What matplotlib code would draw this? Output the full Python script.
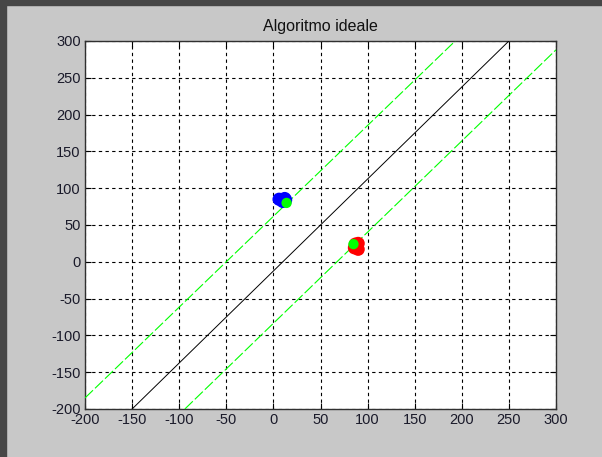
import numpy as np
import matplotlib
matplotlib.use("Agg")
import matplotlib.pyplot as plt
from matplotlib.patches import Rectangle

plt.rcParams['font.family'] = ['Liberation Sans', 'DejaVu Sans']
plt.rcParams['axes.unicode_minus'] = False

# reference line and two tolerance bands
ideal_x = [-150, 250]
ideal_y = [-200, 300]
upper_x = [-200, 193]
upper_y = [-185, 300]
lower_x = [-94, 300]
lower_y = [-200, 288]

# point clusters
blue_x = [6, 12, 10, 13]
blue_y = [85, 86, 82, 84]
red_x = [87, 90, 88, 90, 86]
red_y = [24, 17, 21, 25, 19]
green_x = [14, 85]
green_y = [80, 24]

xticks = np.arange(-200, 301, 50)
yticks = np.arange(-200, 301, 50)

fig = plt.figure(figsize=(6.02, 4.57), dpi=100, facecolor='#c8c8c8')
# dark window border on top and left
fig.patches.append(Rectangle((0, 1 - 5 / 457), 1, 5 / 457, transform=fig.transFigure,
                             color='#474747', zorder=0))
fig.patches.append(Rectangle((0, 0), 6 / 602, 1, transform=fig.transFigure,
                             color='#474747', zorder=0))

ax = fig.add_axes([85 / 602, 1 - 409 / 457, 471 / 602, 368 / 457])
ax.set_facecolor('white')

ax.plot(ideal_x, ideal_y, color='black', lw=0.7, zorder=3)
ax.plot(upper_x, upper_y, color='#00ff00', lw=0.8, dashes=(10, 2.5), zorder=3)
ax.plot(lower_x, lower_y, color='#00ff00', lw=0.8, dashes=(10, 2.5), zorder=3)

ax.scatter(blue_x, blue_y, s=90, color='#0000ff', edgecolors='none', zorder=4)
ax.scatter(red_x, red_y, s=90, color='#ff0000', edgecolors='none', zorder=4)
ax.scatter(green_x, green_y, s=55, color='#00ff00', edgecolors='none', zorder=5)

ax.set_xlim(-200, 300)
ax.set_ylim(-200, 300)
ax.set_xticks(xticks)
ax.set_yticks(yticks)
ax.grid(True, color='black', lw=0.8, linestyle=(0, (3, 3)))
ax.tick_params(direction='in', length=4, width=0.8, labelsize=10.5,
               labelcolor='#1a1a2a', pad=3, top=True, right=True)
for s in ax.spines.values():
    s.set_color('#303030')
    s.set_linewidth(1.0)

ax.set_title('Algoritmo ideale', fontsize=11.5, color='#111111', pad=7)

fig.savefig('out.png', dpi=100, facecolor=fig.get_facecolor())
